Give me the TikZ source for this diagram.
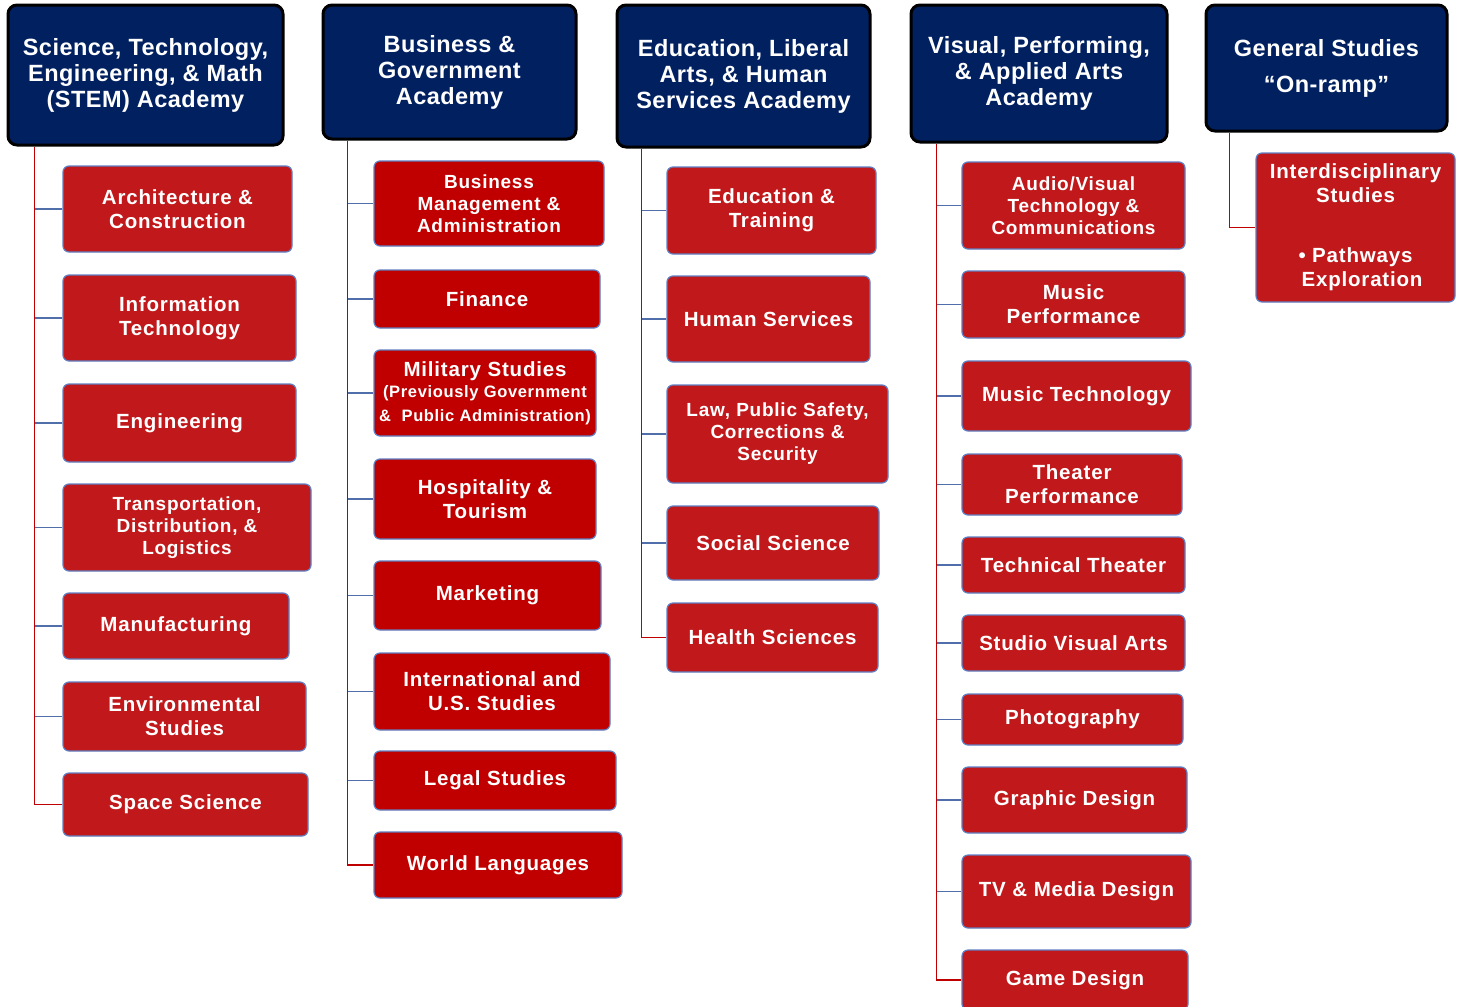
\documentclass[tikz,border=0pt]{standalone}
\usepackage{fontspec}
\setmainfont{Liberation Sans}
\newfontfamily\headfont[LetterSpace=2]{Liberation Sans}
\newfontfamily\cardfont[LetterSpace=4]{Liberation Sans}
\usepackage{tikz}
\usepackage{xcolor}

\definecolor{navyhead}{RGB}{0,32,96}
\definecolor{cardred}{RGB}{193,25,27}
\definecolor{cardredd}{RGB}{192,0,0}
\definecolor{cardedge}{RGB}{95,128,196}
\definecolor{stubblue}{RGB}{80,110,170}

\tikzset{
  head/.style={draw=black, line width=3pt, fill=navyhead, rounded corners=9pt, text=white,
    align=center, inner sep=2pt, font=\headfont\fontsize{23.5}{26}\selectfont\bfseries},
  card/.style={draw=cardedge, line width=1.2pt, fill=cardred, rounded corners=6pt, text=white,
    align=center, inner sep=2pt, font=\cardfont\fontsize{20.5}{24}\selectfont\bfseries},
  cardsm/.style={card, font=\cardfont\fontsize{19}{22}\selectfont\bfseries},
  trunk/.style={draw=cardredd, line width=1.3pt},
  stub/.style={draw=stubblue, line width=1.3pt}
}

\begin{document}
\begin{tikzpicture}[x=1pt,y=1pt,yscale=-1,xscale=1]

\useasboundingbox (0,0) rectangle (1465,1007);

% academies
\node[head, minimum width=275pt, minimum height=140pt] (stem) at (145.5,75) {Science, Technology,\\Engineering, \& Math\\(STEM) Academy};

\node[head, minimum width=253pt, minimum height=134pt] (busgov) at (449.5,72) {Business \&\\Government\\Academy};

\node[head, minimum width=253pt, minimum height=142pt] (edlib) at (743.5,76) {Education, Liberal\\Arts, \& Human\\Services Academy};

\node[head, minimum width=256pt, minimum height=137pt] (vpa) at (1039,73.5) {Visual, Performing,\\\& Applied Arts\\Academy};

\node[head, minimum width=241pt, minimum height=126pt] (gen) at (1326.5,68) {General Studies\\[10pt]“On-ramp”};

\coordinate (t1) at ([xshift=28pt]stem.south west);
\coordinate (t2) at ([xshift=26pt]busgov.south west);
\coordinate (t3) at ([xshift=26pt]edlib.south west);
\coordinate (t4) at ([xshift=27pt]vpa.south west);
\coordinate (t5) at ([xshift=25pt]gen.south west);

% STEM
\node[card, minimum width=229pt, minimum height=86pt] (arch) at (177.5,209) {Architecture \&\\Construction};

\node[card, minimum width=233pt, minimum height=86pt] (info) at (179.5,318) {Information\\Technology};

\node[card, minimum width=233pt, minimum height=78pt] (engr) at (179.5,423) {Engineering};

\node[cardsm, minimum width=248pt, minimum height=87pt] (trans) at (187,527.5) {Transportation,\\Distribution, \&\\Logistics};

\node[card, minimum width=226pt, minimum height=66pt] (manu) at (176,626) {Manufacturing};

\node[card, minimum width=243pt, minimum height=69pt] (env) at (184.5,716.5) {Environmental\\Studies};

\node[card, minimum width=245pt, minimum height=63pt] (space) at (185.5,804.5) {Space Science};

% business & government
\node[cardsm, fill=cardredd, minimum width=230pt, minimum height=85pt] (bma) at (489,203.5) {Business\\Management \&\\Administration};

\node[card, fill=cardredd, minimum width=226pt, minimum height=58pt] (fin) at (487,299) {Finance};

\node[card, fill=cardredd, minimum width=222pt, minimum height=86pt] (mil) at (485,393) {Military Studies\\[-3pt]{\fontsize{16.5}{18}\selectfont (Previously Government}\\{\fontsize{16.5}{18}\selectfont \&\ \ Public Administration)}};

\node[card, fill=cardredd, minimum width=222pt, minimum height=80pt] (hosp) at (485,499) {Hospitality \&\\Tourism};

\node[card, fill=cardredd, minimum width=227pt, minimum height=69pt] (mkt) at (487.5,595.5) {Marketing};

\node[card, fill=cardredd, minimum width=236pt, minimum height=77pt] (intl) at (492,691.5) {International and\\U.S. Studies};

\node[card, fill=cardredd, minimum width=242pt, minimum height=59pt] (legal) at (495,780.5) {Legal Studies};

\node[card, fill=cardredd, minimum width=248pt, minimum height=66pt] (world) at (498,865) {World Languages};

% education, liberal arts & human services
\node[card, minimum width=209pt, minimum height=87pt] (edtr) at (771.5,210.5) {Education \&\\Training};

\node[card, minimum width=203pt, minimum height=86pt] (human) at (768.5,319) {Human Services};

\node[cardsm, minimum width=221pt, minimum height=98pt] (law) at (777.5,434) {Law, Public Safety,\\Corrections \&\\Security};

\node[card, minimum width=212pt, minimum height=74pt] (social) at (773,543) {Social Science};

\node[card, minimum width=211pt, minimum height=69pt] (health) at (772.5,637.5) {Health Sciences};

% visual, performing & applied arts
\node[cardsm, minimum width=223pt, minimum height=87pt] (av) at (1073.5,205.5) {Audio/Visual\\Technology \&\\Communications};

\node[card, minimum width=223pt, minimum height=67pt] (mperf) at (1073.5,304.5) {Music\\Performance};

\node[card, minimum width=229pt, minimum height=70pt] (mtech) at (1076.5,396) {Music Technology};

\node[card, minimum width=220pt, minimum height=61pt] (theat) at (1072,484.5) {Theater\\Performance};

\node[card, minimum width=223pt, minimum height=56pt] (techth) at (1073.5,565) {Technical Theater};

\node[card, minimum width=223pt, minimum height=56pt] (studio) at (1073.5,643) {Studio Visual Arts};

\node[card, minimum width=221pt, minimum height=51pt] (photo) at (1072.5,719.5) {Photography};

\node[card, minimum width=225pt, minimum height=66pt] (graph) at (1074.5,800) {Graphic Design};

\node[card, minimum width=229pt, minimum height=73pt] (tv) at (1076.5,891.5) {TV \& Media Design};

\node[card, minimum width=226pt, minimum height=60pt] (game) at (1075,980) {Game Design};

% general studies
\node[card, minimum width=199pt, minimum height=149pt] (inter) at (1355.5,227.5) {Interdisciplinary\\Studies\\[36pt]• Pathways\\\ \ Exploration};

% trunks
\draw[trunk] (t1) |- (space.west);
\draw[trunk] (t2) |- (world.west);
\draw[trunk] (t3) |- (health.west);
\draw[trunk] (t4) |- (game.west);
\draw[trunk] (t5) |- (inter.west);

% branches
\foreach \n in {arch,info,engr,trans,manu,env}
  \draw[stub] (\n.west) -- (\n.west -| t1);
\foreach \n in {bma,fin,mil,hosp,mkt,intl,legal}
  \draw[stub] (\n.west) -- (\n.west -| t2);
\foreach \n in {edtr,human,law,social}
  \draw[stub] (\n.west) -- (\n.west -| t3);
\foreach \n in {av,mperf,mtech,theat,techth,studio,photo,graph,tv}
  \draw[stub] (\n.west) -- (\n.west -| t4);

\end{tikzpicture}
\end{document}
